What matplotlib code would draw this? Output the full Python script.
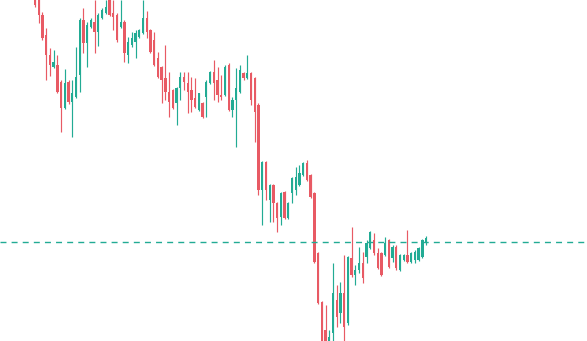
import numpy as np
import matplotlib
matplotlib.use('Agg')
import matplotlib.pyplot as plt

# candle prices (arbitrary price units)
opens = [355, 350, 335, 315, 295, 283, 285, 268, 242, 268, 248, 253, 275, 330, 307, 323, 328, 318, 332, 337,
         350, 337, 335, 323, 328, 295, 305, 308, 313, 317, 332, 320, 310, 292, 283, 272, 258, 260, 247, 262,
         273, 267, 260, 252, 240, 247, 253, 267, 278, 270, 255, 255, 285, 240, 250, 258, 277, 272, 277, 272,
         245, 160, 188, 150, 165, 147, 133, 158, 132, 157, 160, 165, 175, 187, 175, 157, 97, 48, 20, 7,
         17, 50, 37, 57, 27, 92, 75, 80, 87, 93, 102, 110, 97, 97, 95, 110, 92, 103, 80, 90,
         95, 88, 90, 90, 93, 107]
highs = [360, 353, 338, 322, 302, 300, 295, 270, 281, 270, 270, 303, 332, 342, 328, 332, 350, 337, 342, 350,
         355, 350, 337, 350, 330, 313, 318, 320, 321, 350, 339, 321, 318, 298, 284, 305, 278, 261, 263, 278,
         278, 278, 273, 272, 257, 248, 270, 279, 290, 283, 275, 285, 287, 253, 282, 285, 278, 295, 278, 273,
         247, 189, 189, 166, 166, 148, 158, 159, 148, 173, 183, 185, 188, 190, 176, 158, 98, 49, 45, 20,
         87, 65, 68, 95, 94, 123, 85, 103, 98, 110, 119, 117, 102, 98, 113, 111, 105, 105, 96, 96,
         120, 98, 100, 103, 111, 114]
lows = [343, 327, 310, 270, 274, 282, 257, 218, 241, 246, 213, 252, 258, 297, 283, 322, 297, 304, 331, 336,
        334, 320, 308, 322, 288, 287, 303, 292, 312, 316, 312, 297, 284, 272, 247, 250, 233, 241, 225, 250,
        260, 237, 238, 242, 239, 232, 233, 266, 250, 248, 250, 254, 239, 233, 203, 257, 270, 271, 245, 208,
        155, 125, 150, 128, 128, 118, 125, 131, 131, 147, 155, 164, 174, 169, 152, 87, 46, 5, 5, 5,
        5, 23, 27, 5, 25, 73, 65, 77, 67, 87, 101, 95, 81, 74, 94, 82, 88, 80, 79, 89,
        87, 87, 87, 89, 92, 105]
closes = [345, 335, 312, 295, 285, 288, 258, 242, 267, 248, 257, 273, 330, 307, 325, 330, 318, 335, 340, 343,
          335, 333, 310, 328, 297, 308, 312, 317, 320, 332, 318, 298, 285, 273, 270, 258, 248, 242, 262, 273,
          268, 258, 250, 243, 257, 233, 268, 278, 267, 255, 253, 283, 240, 250, 262, 280, 272, 277, 250, 238,
          160, 188, 160, 165, 147, 132, 157, 132, 147, 172, 173, 177, 187, 170, 153, 88, 47, 7, 8, 13,
          57, 33, 57, 23, 93, 75, 80, 87, 72, 107, 118, 97, 82, 75, 107, 83, 103, 82, 95, 95,
          88, 97, 98, 102, 110, 112]
level = 108.5

up_col = '#22ab94'
down_col = '#e85a64'

o = np.array(opens)
h = np.array(highs)
l = np.array(lows)
c = np.array(closes)
x = np.arange(len(o))
cols = [up_col if cc >= oo else down_col for oo, cc in zip(o, c)]

fig = plt.figure(figsize=(5.87, 3.41), dpi=100)
ax = fig.add_axes([0, 0, 1, 1])

ax.vlines(x, l, h, colors=cols, linewidth=0.85)
body_h = np.abs(c - o)
body_h = np.where(body_h < 1.0, 1.0, body_h)
ax.bar(x, body_h, bottom=np.minimum(o, c), width=0.62, color=cols, linewidth=0)

ax.axhline(level, color=up_col, linestyle=(0, (4.3, 3.7)), linewidth=1.0)

ax.set_xlim(-9.4, 148.2)
ax.set_ylim(9, 350)
ax.axis('off')

fig.savefig('out.png', dpi=100, facecolor='white')
